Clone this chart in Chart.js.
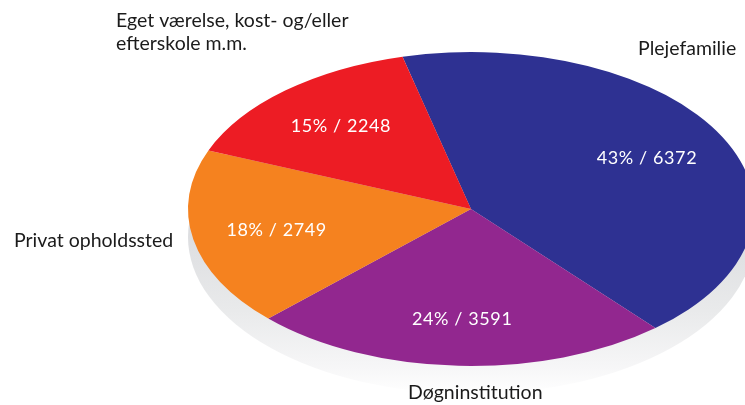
<!DOCTYPE html>
<html>
<head>
<meta charset="utf-8">
<script src="https://cdn.jsdelivr.net/npm/chart.js@4"></script>
<style>
  html, body { margin: 0; padding: 0; background: #fff; }
  #wrap { position: relative; width: 745px; height: 405px; }
</style>
</head>
<body>
<div id="wrap"><canvas id="pie"></canvas></div>
<script>
const CATEGORIES = [
  ["Plejefamilie"],
  ["Døgninstitution"],
  ["Privat opholdssted"],
  ["Eget værelse, kost- og/eller", "efterskole m.m."],
];
const COUNTS = [6372, 3591, 2749, 2248];
const COLORS = ["#2e3192", "#92278f", "#f5821f", "#ed1c24"];

// where the tilted pie sits on the page
const CX = 471, CY = 209, RX = 283, RY = 157, DEPTH = 28;
const INNER_FRAC = 0.7;

// category text anchors (left edge, first baseline)
const OUTER_ANCHORS = [
  { x: 638, y: 55 },
  { x: 408, y: 399 },
  { x: 14, y: 247 },
  { x: 116, y: 27 },
];

const total = COUNTS.reduce((a, b) => a + b, 0);

const tiltPlugin = {
  id: "tilt",
  beforeDatasetsDraw(chart) {
    const ctx = chart.ctx;
    const arc = chart.getDatasetMeta(0).data[0];

    // grey base under the disc
    ctx.save();
    const g = ctx.createLinearGradient(0, CY, 0, CY + DEPTH + RY);
    g.addColorStop(0, "#d9dadd");
    g.addColorStop(0.55, "#e9eaeb");
    g.addColorStop(0.85, "#f6f6f7");
    g.addColorStop(1, "#ffffff");
    ctx.fillStyle = g;
    ctx.beginPath();
    ctx.ellipse(CX, CY + DEPTH, RX, RY, 0, 0, Math.PI * 2);
    ctx.fill();
    ctx.restore();

    // squash the round pie into the ellipse
    ctx.save();
    ctx.translate(CX, CY);
    ctx.scale(RX / arc.outerRadius, RY / arc.outerRadius);
    ctx.translate(-arc.x, -arc.y);
  },
  afterDatasetsDraw(chart) {
    const ctx = chart.ctx;
    ctx.restore();

    const meta = chart.getDatasetMeta(0);
    ctx.save();
    ctx.fillStyle = "#ffffff";
    ctx.font = "18px Lato";
    ctx.letterSpacing = "0.6px";
    ctx.textAlign = "center";
    ctx.textBaseline = "middle";
    meta.data.forEach((arc, i) => {
      const mid = (arc.startAngle + arc.endAngle) / 2;
      const x = CX + RX * INNER_FRAC * Math.cos(mid);
      const y = CY + RY * INNER_FRAC * Math.sin(mid);
      const pct = Math.round((COUNTS[i] / total) * 100);
      ctx.fillText(`${pct}% / ${COUNTS[i]}`, x, y);
    });

    ctx.fillStyle = "#1b1b1b";
    ctx.font = "19.5px Lato";
    ctx.letterSpacing = "0px";
    ctx.textAlign = "left";
    ctx.textBaseline = "alphabetic";
    CATEGORIES.forEach((lines, i) => {
      const a = OUTER_ANCHORS[i];
      lines.forEach((line, j) => ctx.fillText(line, a.x, a.y + j * 23));
    });
    ctx.restore();
  },
};

new Chart(document.getElementById("pie"), {
  type: "pie",
  data: {
    labels: CATEGORIES,
    datasets: [
      {
        data: COUNTS,
        backgroundColor: COLORS,
        borderWidth: 0,
        clip: false,
      },
    ],
  },
  options: {
    responsive: true,
    maintainAspectRatio: false,
    animation: false,
    events: [],
    rotation: -14,
    plugins: {
      legend: { display: false },
      tooltip: { enabled: false },
    },
  },
  plugins: [tiltPlugin],
});
</script>
</body>
</html>
